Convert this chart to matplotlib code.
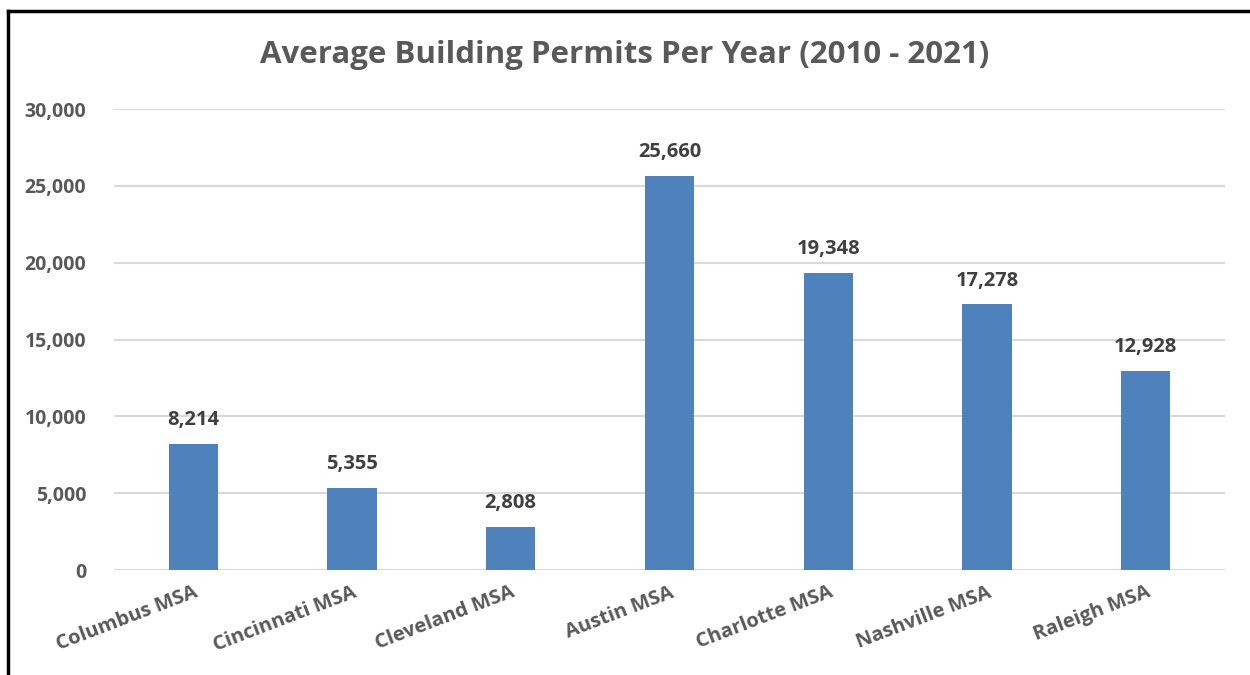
import matplotlib
matplotlib.use("Agg")
import matplotlib.pyplot as plt
from matplotlib.lines import Line2D

categories = ["Columbus MSA", "Cincinnati MSA", "Cleveland MSA", "Austin MSA",
              "Charlotte MSA", "Nashville MSA", "Raleigh MSA"]
values = [8214, 5355, 2808, 25660, 19348, 17278, 12928]
yticks = [0, 5000, 10000, 15000, 20000, 25000, 30000]
title = "Average Building Permits Per Year (2010 - 2021)"

plt.rcParams['font.family'] = ['Open Sans', 'DejaVu Sans']

fig = plt.figure(figsize=(12.5, 6.75), dpi=100)
ax = fig.add_axes([114/1250, 1 - 570/675, (1225-114)/1250, (570-109)/675])

x = list(range(len(categories)))
ax.bar(x, values, width=0.31, color="#4f81bd", zorder=3)
ax.set_xlim(-0.5, len(categories) - 0.5)
ax.set_ylim(0, 30000)
ax.set_yticks(yticks)
ax.set_yticklabels([f"{v:,}" for v in yticks])
ax.grid(axis='y', color="#d9d9d9", linewidth=1.5, zorder=0)
for s in ax.spines.values():
    s.set_visible(False)
ax.tick_params(axis='both', length=0, labelsize=14, labelcolor="#595959")
ax.tick_params(axis='y', pad=20)
for lab in ax.get_yticklabels():
    lab.set_fontweight('bold')
ax.set_xticks(x)
ax.set_xticklabels(categories, rotation=21, ha='right', rotation_mode='anchor',
                   fontweight='bold', fontsize=14.5, color="#595959")
ax.tick_params(axis='x', pad=9)

for xi, v in zip(x, values):
    ax.annotate(f"{v:,}", (xi, v), xytext=(0, 10), textcoords='offset points',
                ha='center', va='bottom', fontsize=14.5, fontweight='bold', color="#404040")

fig.text(0.5, 1 - 55/675, title, ha='center', va='center', fontsize=22.5,
         fontweight='bold', color="#595959")

# frame border (left and top)
fig.add_artist(Line2D([8/1250, 8/1250], [0, 1 - 11/675], transform=fig.transFigure,
                      color='black', linewidth=2.5))
fig.add_artist(Line2D([8/1250, 1], [1 - 11/675, 1 - 11/675], transform=fig.transFigure,
                      color='black', linewidth=2.5))

fig.savefig("out.png", dpi=100)
